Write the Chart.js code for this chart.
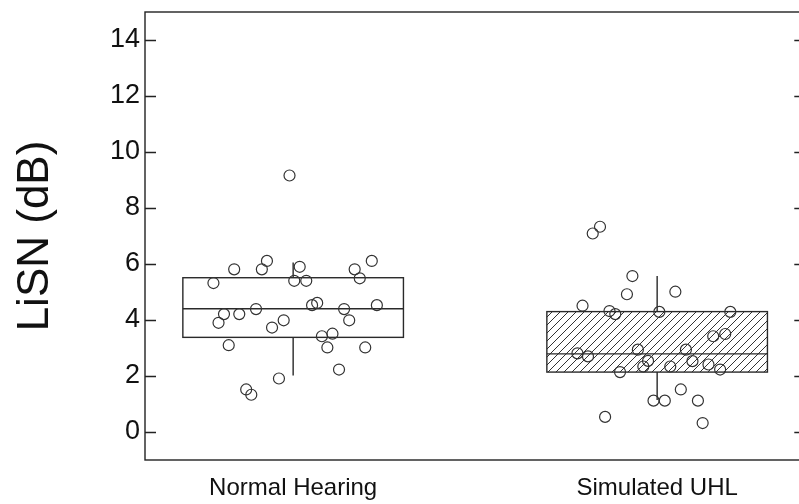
<!DOCTYPE html>
<html>
<head>
<meta charset="utf-8">
<script src="https://cdn.jsdelivr.net/npm/chart.js@4"></script>
<style>
  html, body { margin: 0; padding: 0; background: #fff; overflow: hidden; }
  #wrap { width: 812px; height: 504px; }
</style>
</head>
<body>
<div id="wrap"><canvas id="chart"></canvas></div>
<script>
// groups
let categories = ['Normal Hearing', 'Simulated UHL'];
let yTicks = [0, 2, 4, 6, 8, 10, 12, 14];

// box stats
let q1 = [3.38, 2.14];
let medians = [4.40, 2.79];
let q3 = [5.51, 4.30];
let whiskerLo = [2.02, 1.14];
let whiskerHi = [6.05, 5.57];

// jittered raw points, group 1
let nhX = [0.99, 0.838, 0.914, 0.928, 1.018, 1.003, 1.036, 0.781, 1.169, 1.183, 1.216,
  1.23, 1.14, 1.154, 1.052, 1.066, 0.898, 0.852, 0.81, 0.795, 0.974, 0.942, 1.079,
  1.108, 1.094, 1.198, 0.823, 1.126, 0.961, 0.871, 0.885];
let nhY = [9.16, 5.81, 5.81, 6.11, 5.90, 5.40, 5.40, 5.32, 5.81, 5.49, 6.11,
  4.53, 4.39, 3.99, 4.53, 4.61, 4.39, 4.21, 4.21, 3.90, 3.99, 3.73, 3.42,
  3.51, 3.02, 3.02, 3.10, 2.23, 1.91, 1.52, 1.33];

// group 2
let uhlX = [1.843, 1.823, 1.932, 1.917, 2.05, 1.795, 1.869, 1.885, 2.006, 2.201, 2.154,
  2.187, 1.781, 1.81, 1.947, 1.975, 1.962, 2.079, 2.097, 2.036, 2.141, 2.173, 1.898,
  2.065, 1.99, 2.021, 2.112, 1.857, 2.125];
let uhlY = [7.33, 7.09, 5.57, 4.92, 5.01, 4.51, 4.32, 4.21, 4.29, 4.29, 3.42,
  3.50, 2.81, 2.70, 2.94, 2.54, 2.34, 2.94, 2.53, 2.34, 2.41, 2.23, 2.14,
  1.52, 1.12, 1.12, 1.12, 0.54, 0.32];

function pts(xs, ys) {
  return xs.map(function(x, i) { return { x: x, y: ys[i] }; });
}

function hatchPattern(ctx) {
  var c = document.createElement('canvas');
  c.width = 8; c.height = 8;
  var p = c.getContext('2d');
  p.strokeStyle = '#333';
  p.lineWidth = 1;
  p.beginPath();
  p.moveTo(0, 8); p.lineTo(8, 0);
  p.moveTo(-2, 2); p.lineTo(2, -2);
  p.moveTo(6, 10); p.lineTo(10, 6);
  p.stroke();
  return ctx.createPattern(c, 'repeat');
}

const boxPlugin = {
  id: 'boxes',
  beforeDatasetsDraw(chart) {
    var ctx = chart.ctx, xs = chart.scales.x, ys = chart.scales.y;
    var half = 0.303;
    ctx.save();
    ctx.strokeStyle = '#2a2a2a';
    ctx.lineWidth = 1.4;
    for (var i = 0; i < categories.length; i++) {
      var cx = xs.getPixelForValue(i + 1);
      var x0 = xs.getPixelForValue(i + 1 - half);
      var x1 = xs.getPixelForValue(i + 1 + half);
      var yq1 = ys.getPixelForValue(q1[i]);
      var yq3 = ys.getPixelForValue(q3[i]);
      var ym = ys.getPixelForValue(medians[i]);
      if (i === 1) {
        ctx.fillStyle = hatchPattern(ctx);
        ctx.fillRect(x0, yq3, x1 - x0, yq1 - yq3);
      }
      ctx.strokeRect(x0, yq3, x1 - x0, yq1 - yq3);
      ctx.beginPath();
      ctx.moveTo(x0, ym); ctx.lineTo(x1, ym);
      ctx.moveTo(cx, yq3); ctx.lineTo(cx, ys.getPixelForValue(whiskerHi[i]));
      ctx.moveTo(cx, yq1); ctx.lineTo(cx, ys.getPixelForValue(whiskerLo[i]));
      ctx.stroke();
    }
    ctx.restore();
  },
  afterDraw(chart) {
    var ctx = chart.ctx, a = chart.chartArea, ys = chart.scales.y;
    ctx.save();
    ctx.strokeStyle = '#222';
    ctx.lineWidth = 1.4;
    ctx.strokeRect(a.left, a.top, a.right - a.left, a.bottom - a.top);
    ctx.beginPath();
    yTicks.forEach(function(v) {
      var y = Math.round(ys.getPixelForValue(v)) + 0.5;
      ctx.moveTo(a.left, y); ctx.lineTo(a.left + 11, y);
      ctx.moveTo(a.right, y); ctx.lineTo(a.right - 11, y);
    });
    ctx.stroke();
    ctx.restore();
  }
};

var ctx = document.getElementById('chart').getContext('2d');
var myChart = new Chart(ctx, {
  type: 'scatter',
  data: {
    datasets: [
      { label: categories[0], data: pts(nhX, nhY) },
      { label: categories[1], data: pts(uhlX, uhlY) }
    ]
  },
  options: {
    responsive: true,
    maintainAspectRatio: false,
    animation: false,
    layout: { padding: { top: 12, right: 6, left: 0, bottom: 0 } },
    elements: {
      point: {
        pointStyle: 'circle',
        radius: 5.5,
        backgroundColor: 'rgba(0,0,0,0)',
        borderColor: '#333',
        borderWidth: 1.2
      }
    },
    plugins: {
      legend: { display: false },
      tooltip: { enabled: false }
    },
    scales: {
      x: {
        type: 'linear',
        min: 0.593,
        max: 2.407,
        grid: { display: false, drawTicks: false },
        border: { display: false },
        afterBuildTicks: function(scale) {
          scale.ticks = categories.map(function(c, i) { return { value: i + 1 }; });
        },
        afterFit: function(scale) {
          scale.height = 44;
          scale.paddingLeft = 0;
          scale.paddingRight = 0;
        },
        ticks: {
          padding: 14,
          maxRotation: 0,
          color: '#111',
          font: { family: 'Liberation Sans, Arial, sans-serif', size: 24 },
          callback: function(v) { return categories[v - 1]; }
        }
      },
      y: {
        min: -1,
        max: 15,
        grid: { display: false, drawTicks: false },
        border: { display: false },
        afterBuildTicks: function(scale) {
          scale.ticks = yTicks.map(function(v) { return { value: v }; });
        },
        afterFit: function(scale) {
          scale.width = 145;
          scale.paddingTop = 0;
          scale.paddingBottom = 0;
        },
        ticks: {
          padding: 5,
          color: '#111',
          font: { family: 'Liberation Sans, Arial, sans-serif', size: 27 }
        },
        title: {
          display: true,
          text: 'LiSN (dB)',
          color: '#111',
          padding: { top: 9, bottom: 0 },
          font: { family: 'Liberation Sans, Arial, sans-serif', size: 44 }
        }
      }
    }
  },
  plugins: [boxPlugin]
});
</script>
</body>
</html>
